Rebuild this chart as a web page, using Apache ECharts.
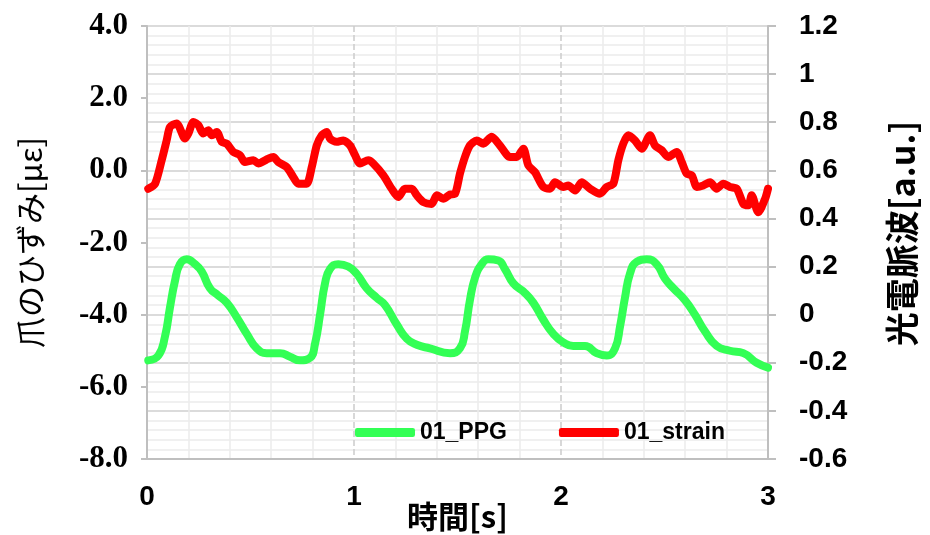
<!DOCTYPE html>
<html>
<head>
<meta charset="utf-8">
<script src="https://cdn.jsdelivr.net/npm/echarts@6/dist/echarts.min.js"></script>
<style>
html,body{margin:0;padding:0;background:#fff;}
#c{width:930px;height:535px;}
</style>
</head>
<body>
<div id="c"></div>
<script>
// Time [s] and nail strain [με] (red, left axis)
const strainT = [0.006,0.039,0.071,0.095,0.111,0.143,0.184,0.200,0.224,0.248,0.272,0.296,0.313,0.337,0.361,0.385,0.417,0.449,0.473,0.514,0.538,0.578,0.610,0.634,0.675,0.707,0.731,0.771,0.796,0.820,0.844,0.868,0.884,0.916,0.948,0.981,1.005,1.029,1.069,1.093,1.142,1.182,1.214,1.246,1.279,1.303,1.335,1.375,1.400,1.431,1.464,1.488,1.512,1.536,1.560,1.593,1.625,1.665,1.705,1.754,1.786,1.818,1.842,1.874,1.914,1.947,1.971,2.011,2.035,2.068,2.100,2.140,2.188,2.221,2.253,2.277,2.301,2.325,2.357,2.390,2.430,2.454,2.486,2.518,2.559,2.583,2.607,2.632,2.656,2.687,2.720,2.752,2.784,2.816,2.849,2.881,2.905,2.921,2.953,2.986,3.000];
const strainV = [-0.51,-0.37,0.28,0.83,1.20,1.30,0.88,1.02,1.34,1.25,1.02,1.11,0.97,1.06,0.79,0.74,0.51,0.42,0.23,0.28,0.19,0.30,0.37,0.23,0.09,-0.19,-0.37,-0.37,0.09,0.69,0.97,1.06,0.88,0.79,0.83,0.69,0.42,0.19,0.28,0.19,-0.14,-0.51,-0.74,-0.51,-0.51,-0.69,-0.88,-0.93,-0.69,-0.79,-0.67,-0.65,-0.09,0.37,0.69,0.83,0.74,0.93,0.69,0.37,0.37,0.60,0.14,-0.05,-0.46,-0.51,-0.33,-0.46,-0.42,-0.56,-0.33,-0.51,-0.65,-0.46,-0.37,0.28,0.74,0.97,0.83,0.60,0.97,0.69,0.56,0.37,0.51,0.23,-0.09,-0.14,-0.46,-0.42,-0.33,-0.51,-0.37,-0.46,-0.51,-0.93,-0.97,-0.69,-1.16,-0.79,-0.51];
// Time [s] and PPG [a.u.] (green, right axis)
const ppgT = [0.006,0.055,0.087,0.111,0.135,0.159,0.192,0.232,0.264,0.304,0.344,0.385,0.433,0.482,0.530,0.578,0.643,0.691,0.739,0.787,0.812,0.836,0.860,0.884,0.924,0.972,1.013,1.061,1.110,1.150,1.206,1.255,1.303,1.367,1.464,1.512,1.536,1.560,1.585,1.617,1.649,1.697,1.729,1.770,1.826,1.866,1.914,1.963,2.011,2.059,2.116,2.172,2.221,2.261,2.285,2.309,2.333,2.366,2.414,2.462,2.502,2.543,2.599,2.647,2.696,2.752,2.816,2.881,2.945,3.000];
const ppgV = [-0.19,-0.17,-0.09,0.03,0.14,0.21,0.23,0.21,0.18,0.11,0.08,0.05,-0.01,-0.08,-0.14,-0.16,-0.16,-0.175,-0.19,-0.18,-0.12,0.00,0.13,0.19,0.21,0.20,0.17,0.11,0.07,0.04,-0.04,-0.10,-0.125,-0.14,-0.16,-0.14,-0.07,0.06,0.155,0.21,0.23,0.225,0.19,0.13,0.09,0.05,-0.02,-0.08,-0.115,-0.13,-0.13,-0.16,-0.17,-0.14,-0.05,0.07,0.17,0.22,0.23,0.21,0.15,0.11,0.06,0.00,-0.07,-0.13,-0.15,-0.16,-0.20,-0.22];
const xTicks = {min:0, max:3, interval:1};
const leftTicks = {min:-8, max:4, interval:2};
const rightTicks = {min:-0.6, max:1.2, interval:0.2};
const seriesNames = ['01_PPG','01_strain'];

const chart = echarts.init(document.getElementById('c'), null, {renderer:'canvas'});
const zip = (a,b)=>a.map((t,i)=>[t,b[i]]);
const axisGray = '#bfbfbf';
chart.setOption({
  animation:false,
  backgroundColor:'#ffffff',
  grid:{left:147,right:162,top:26,bottom:76,containLabel:false,outerBoundsMode:'none'},
  legend:{
    left:350, top:416, itemWidth:60, itemHeight:9, itemGap:52,
    icon:'roundRect',
    textStyle:{fontFamily:'Liberation Sans, Arial', fontWeight:'bold', fontSize:23, color:'#000'},
    data:seriesNames
  },
  xAxis:{
    type:'value', min:xTicks.min, max:xTicks.max, interval:xTicks.interval,
    name:'時間[s]', nameLocation:'middle', nameGap:42, nameMoveOverlap:false,
    nameTextStyle:{fontFamily:'Noto Sans CJK JP', fontWeight:'bold', fontSize:31, color:'#000'},
    axisLine:{show:true, onZero:false, lineStyle:{color:axisGray, width:2}},
    axisTick:{show:false},
    axisLabel:{margin:24, fontFamily:'Liberation Sans, Arial', fontWeight:'bold', fontSize:28, color:'#000'},
    splitLine:{show:true, lineStyle:{color:'#cccccc', width:1.5, type:[6,3]}},
    minorTick:{show:false, splitNumber:5},
    minorSplitLine:{show:true, lineStyle:{color:'#ebebeb', width:1.5}}
  },
  yAxis:[
    {
      type:'value', position:'left', min:leftTicks.min, max:leftTicks.max, interval:leftTicks.interval,
      name:'爪のひずみ[με]', nameLocation:'middle', nameRotate:90, nameGap:101, nameMoveOverlap:false,
      nameTextStyle:{fontFamily:'Noto Sans CJK JP', fontWeight:'normal', fontSize:31, color:'#000'},
      axisLine:{show:true, lineStyle:{color:axisGray, width:2}},
      axisTick:{show:true, inside:false, length:6, lineStyle:{color:axisGray, width:2}},
      axisLabel:{margin:19, fontFamily:'Liberation Serif, Times New Roman', fontWeight:'bold', fontSize:31, color:'#000',
        formatter:v=>v.toFixed(1)},
      splitLine:{show:false}
    },
    {
      type:'value', position:'right', min:rightTicks.min, max:rightTicks.max, interval:rightTicks.interval,
      name:'光電脈波[a.u.]', nameLocation:'middle', nameRotate:90, nameGap:117, nameMoveOverlap:false,
      nameTextStyle:{fontFamily:'Noto Sans CJK JP', fontWeight:'bold', fontSize:34, color:'#000', padding:[0,0,0,18]},
      axisLine:{show:true, lineStyle:{color:axisGray, width:2}},
      axisTick:{show:true, inside:false, length:8, lineStyle:{color:axisGray, width:2}},
      axisLabel:{margin:31, fontFamily:'Liberation Sans, Arial', fontWeight:'bold', fontSize:28, color:'#000',
        formatter:v=>String(parseFloat(v.toFixed(1)))},
      splitLine:{show:true, lineStyle:{color:'#cfcfcf', width:1.5}},
      minorTick:{show:false, splitNumber:5},
      minorSplitLine:{show:true, lineStyle:{color:'#ebebeb', width:1.5}}
    }
  ],
  series:[
    {
      name:seriesNames[0], type:'line', yAxisIndex:1, data:zip(ppgT,ppgV),
      smooth:0.5, symbol:'none', color:'#33ff55',
      lineStyle:{width:8, color:'#33ff55', cap:'round', join:'round'}
    },
    {
      name:seriesNames[1], type:'line', yAxisIndex:0, data:zip(strainT,strainV),
      smooth:0.25, symbol:'none', color:'#ff0000',
      lineStyle:{width:8, color:'#ff0000', cap:'round', join:'round'}
    }
  ]
});
</script>
</body>
</html>
